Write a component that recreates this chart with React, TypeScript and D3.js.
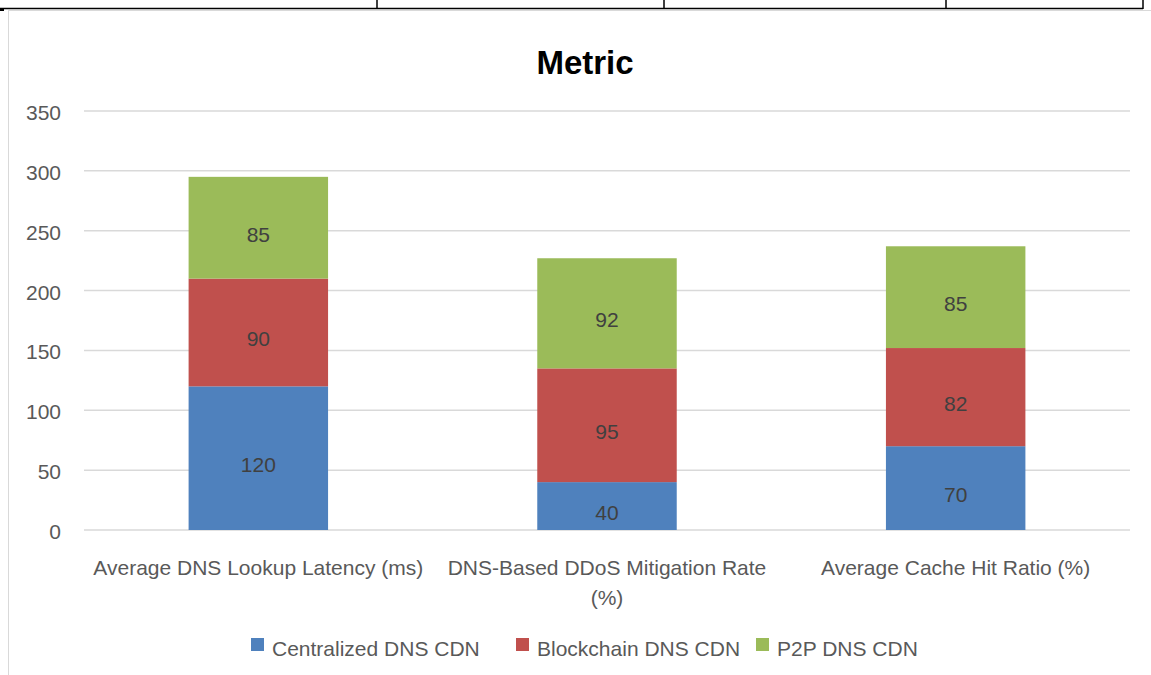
import React, { useEffect, useRef } from "react";
import * as d3 from "d3";

const categories = [
  ["Average DNS Lookup Latency (ms)"],
  ["DNS-Based DDoS Mitigation Rate", "(%)"],
  ["Average Cache Hit Ratio (%)"],
];
const seriesNames = ["Centralized DNS CDN", "Blockchain DNS CDN", "P2P DNS CDN"];
const centralized = [120, 40, 70];
const blockchain = [90, 95, 82];
const p2p = [85, 92, 85];
const yTicks = [0, 50, 100, 150, 200, 250, 300, 350];
const colors = ["#4F81BD", "#C0504D", "#9BBB59"];

const width = 1151;
const height = 675;
const margin = { top: 111, right: 21, bottom: 145, left: 84 };
const font = "'Liberation Sans', Arial, sans-serif";

export default function App() {
  const ref = useRef<SVGSVGElement>(null);

  useEffect(() => {
    const svg = d3.select(ref.current);
    svg.selectAll("*").remove();

    const x = d3
      .scaleBand<number>()
      .domain(d3.range(categories.length))
      .range([margin.left, width - margin.right])
      .paddingInner(0.6)
      .paddingOuter(0.3);
    const y = d3
      .scaleLinear()
      .domain([0, 350])
      .range([height - margin.bottom, margin.top]);

    // page frame bits
    svg.append("rect").attr("width", width).attr("height", height).attr("fill", "#fff");
    svg
      .append("line")
      .attr("x1", 0)
      .attr("x2", 1143)
      .attr("y1", 8.5)
      .attr("y2", 8.5)
      .attr("stroke", "#000")
      .attr("stroke-width", 1.5);
    [377, 664, 946, 1143].forEach((vx) => {
      svg
        .append("line")
        .attr("x1", vx)
        .attr("x2", vx)
        .attr("y1", 0)
        .attr("y2", 9)
        .attr("stroke", "#000")
        .attr("stroke-width", 1.5);
    });
    svg.append("rect").attr("x", 0).attr("y", 8).attr("width", 4).attr("height", 3).attr("fill", "#000");
    svg
      .append("line")
      .attr("x1", 8.5)
      .attr("x2", 8.5)
      .attr("y1", 10)
      .attr("y2", height)
      .attr("stroke", "#d9d9d9")
      .attr("stroke-width", 1);
    svg
      .append("line")
      .attr("x1", 8)
      .attr("x2", width)
      .attr("y1", 10.5)
      .attr("y2", 10.5)
      .attr("stroke", "#d9d9d9")
      .attr("stroke-width", 1);

    // title
    svg
      .append("text")
      .attr("x", 585)
      .attr("y", 74)
      .attr("text-anchor", "middle")
      .attr("font-family", font)
      .attr("font-weight", "bold")
      .attr("font-size", 33)
      .attr("fill", "#000")
      .text("Metric");

    // gridlines + y labels
    const grid = svg.append("g");
    yTicks.forEach((t) => {
      grid
        .append("line")
        .attr("x1", margin.left)
        .attr("x2", width - margin.right)
        .attr("y1", y(t))
        .attr("y2", y(t))
        .attr("stroke", "#d9d9d9")
        .attr("stroke-width", 1.5);
      grid
        .append("text")
        .attr("x", 61)
        .attr("y", y(t) + 9)
        .attr("text-anchor", "end")
        .attr("font-family", font)
        .attr("font-size", 21)
        .attr("fill", "#595959")
        .text(t);
    });

    // stacked bars
    const rows = categories.map((_, i) => ({
      i,
      c: centralized[i],
      b: blockchain[i],
      p: p2p[i],
    }));
    const stack = d3.stack<any>().keys(["c", "b", "p"]);
    const layers = stack(rows);

    layers.forEach((layer, si) => {
      const g = svg.append("g");
      layer.forEach((d, ci) => {
        g.append("rect")
          .attr("x", x(ci)!)
          .attr("width", x.bandwidth())
          .attr("y", y(d[1]))
          .attr("height", y(d[0]) - y(d[1]))
          .attr("fill", colors[si]);
        g.append("text")
          .attr("x", x(ci)! + x.bandwidth() / 2)
          .attr("y", (y(d[0]) + y(d[1])) / 2 + 14)
          .attr("text-anchor", "middle")
          .attr("font-family", font)
          .attr("font-size", 21)
          .attr("fill", "#404040")
          .text(d[1] - d[0]);
      });
    });

    // category labels
    categories.forEach((lines, ci) => {
      lines.forEach((ln, li) => {
        svg
          .append("text")
          .attr("x", x(ci)! + x.bandwidth() / 2)
          .attr("y", 575 + li * 30)
          .attr("text-anchor", "middle")
          .attr("font-family", font)
          .attr("font-size", 21)
          .attr("fill", "#595959")
          .text(ln);
      });
    });

    // legend
    const legendX = [251, 516, 756];
    seriesNames.forEach((name, si) => {
      svg
        .append("rect")
        .attr("x", legendX[si])
        .attr("y", 638)
        .attr("width", 13)
        .attr("height", 13)
        .attr("fill", colors[si]);
      svg
        .append("text")
        .attr("x", legendX[si] + 21)
        .attr("y", 656)
        .attr("font-family", font)
        .attr("font-size", 21)
        .attr("fill", "#595959")
        .text(name);
    });
  }, []);

  return (
    <svg
      ref={ref}
      width={width}
      height={height}
      style={{ position: "absolute", left: 0, top: 0 }}
    />
  );
}
